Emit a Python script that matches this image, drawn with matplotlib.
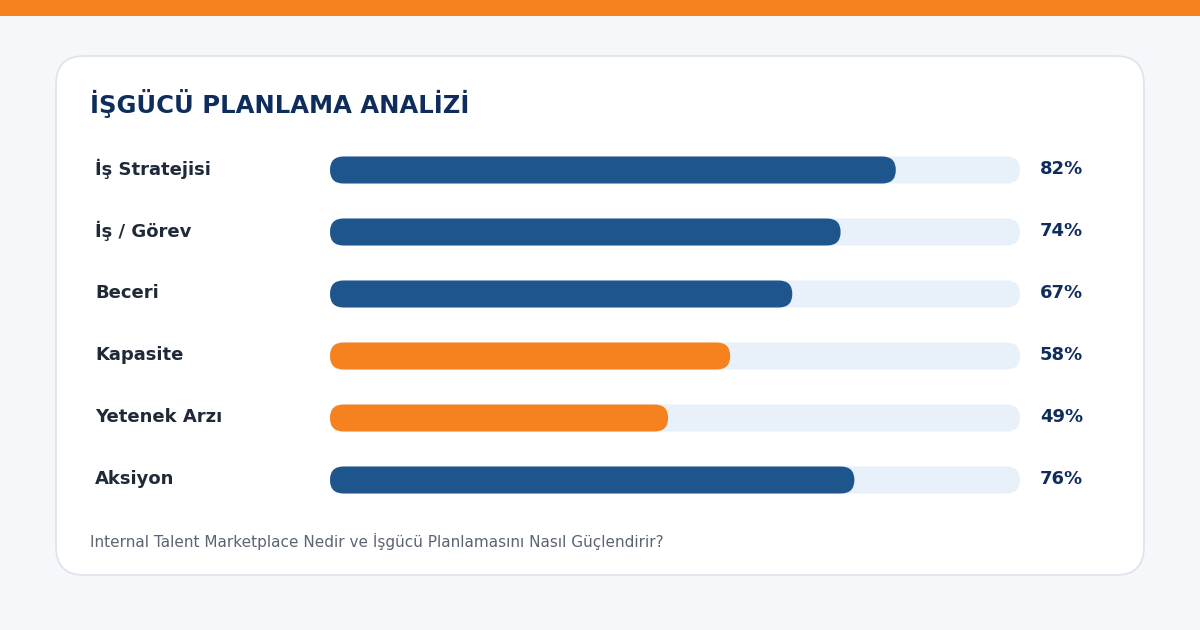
import matplotlib
matplotlib.use("Agg")
import matplotlib.pyplot as plt
from matplotlib.patches import FancyBboxPatch, Rectangle

# data
categories = ["İş Stratejisi", "İş / Görev", "Beceri", "Kapasite", "Yetenek Arzı", "Aksiyon"]
values = [82, 74, 67, 58, 49, 76]
highlight = [False, False, False, True, True, False]
title = "İŞGÜCÜ PLANLAMA ANALİZİ"
footer = "Internal Talent Marketplace Nedir ve İşgücü Planlamasını Nasıl Güçlendirir?"

NAVY = "#1f558d"
ORANGE = "#f5821f"
TRACK = "#e8f0f9"
TEXT = "#1f2937"
TITLE = "#0f2d5c"

plt.rcParams['font.sans-serif'] = ['DejaVu Sans', 'Verdana']
plt.rcParams['font.family'] = 'sans-serif'

fig = plt.figure(figsize=(12, 6.3), dpi=100)
fig.patch.set_facecolor("#f5f7fb")
ax = fig.add_axes([0, 0, 1, 1])
ax.set_xlim(0, 1200)
ax.set_ylim(630, 0)
ax.axis("off")

# top stripe
ax.add_patch(Rectangle((0, 0), 1200, 16, color=ORANGE, lw=0))

# card
ax.add_patch(FancyBboxPatch((56, 56), 1088, 519, boxstyle="round,pad=0,rounding_size=28",
                            facecolor="white", edgecolor="#dde3ec", lw=1.2))

ax.text(90, 103, title, fontsize=17.5, fontweight="bold", color=TITLE, va="center", ha="left")

x0, track_w, bar_h = 330, 690, 27
y_first, step = 170, 62
for i, (cat, v, hl) in enumerate(zip(categories, values, highlight)):
    y = y_first + i * step
    ax.text(95, y - 1, cat, fontsize=13, fontweight="bold", color=TEXT, va="center", ha="left")
    ax.add_patch(FancyBboxPatch((x0, y - bar_h / 2), track_w, bar_h,
                                boxstyle="round,pad=0,rounding_size=13.5", facecolor=TRACK, lw=0))
    ax.add_patch(FancyBboxPatch((x0, y - bar_h / 2), track_w * v / 100, bar_h,
                                boxstyle="round,pad=0,rounding_size=13.5",
                                facecolor=ORANGE if hl else NAVY, lw=0))
    ax.text(1040, y - 1, f"{v}%", fontsize=13, fontweight="bold", color=TITLE, va="center", ha="left")

ax.text(90, 541, footer, fontsize=11, color="#5b6472", va="center", ha="left")

fig.savefig("out.png", dpi=100, facecolor=fig.get_facecolor())
